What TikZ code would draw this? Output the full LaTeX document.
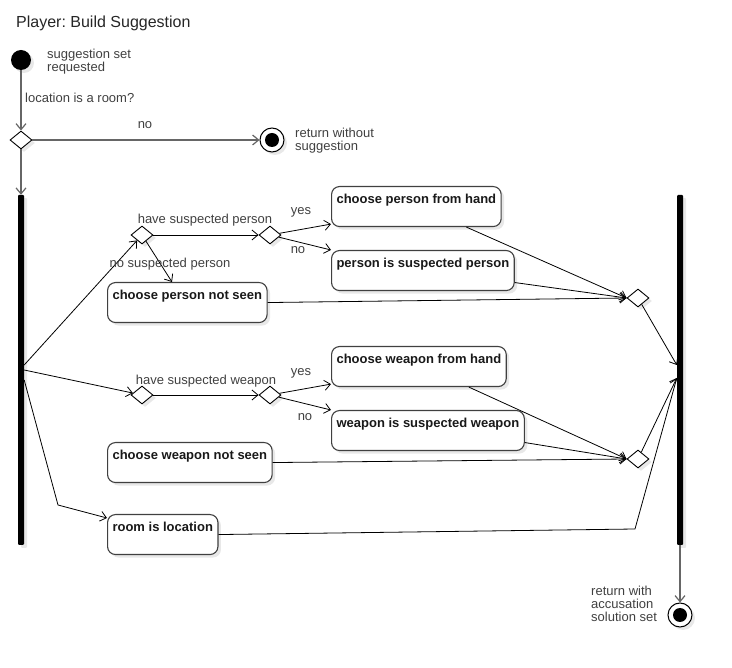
\documentclass[tikz,border=0pt]{standalone}
\usepackage{fontspec}
\setmainfont{Liberation Sans}
\frenchspacing
\usetikzlibrary{shapes.geometric,arrows.meta,shadows}

\tikzset{
  softshadow/.style={drop shadow={shadow xshift=3pt,shadow yshift=-3pt,fill=black!9,opacity=1}},
  startnode/.style={circle, fill=black, minimum size=20pt, inner sep=0pt, softshadow},
  endnode/.style={circle, draw=black, fill=white, line width=1pt, minimum size=24pt, inner sep=0pt, softshadow,
    path picture={\fill[black] (path picture bounding box.center) circle (7pt);}},
  choice/.style={diamond, draw=black, fill=white, line width=0.9pt, minimum width=22pt, minimum height=18pt, inner sep=0pt, softshadow},
  forkbar/.style={rectangle, fill=black, minimum width=6pt, minimum height=350pt, inner sep=0pt, rounded corners=1pt, softshadow},
  action/.style={rectangle, draw=black!75, fill=white, line width=1.1pt, rounded corners=8pt, anchor=north west,
    inner xsep=5pt, inner ysep=5pt, text height=12pt, text depth=18pt,
    font=\bfseries\fontsize{13}{13}\selectfont, text=black!90, softshadow},
  txt/.style={font=\fontsize{13}{13}\selectfont, text=black!75, inner sep=0pt, align=left},
  flow/.style={-{Straight Barb[length=6pt,width=10pt]}, line width=0.8pt, draw=black},
  mainflow/.style={flow, draw=black!60, line width=1.2pt},
}

\begin{document}
\begin{tikzpicture}[x=1pt, y=-1pt]
    \useasboundingbox (0,0) rectangle (732,668);
    \node[txt, anchor=west, font=\fontsize{16}{16}\selectfont, text=black!85] (title) at (16,23) {Player: Build Suggestion};

    % 開始と終了
    \node[startnode] (start) at (21,60) {};
    \node[choice] (isroom) at (21,140) {};
    \node[endnode] (quit) at (272,140) {};
    \node[endnode] (done) at (680,615) {};
    \node[forkbar] (fork) at (21,370) {};
    \node[forkbar] (join) at (680,370) {};

    % 人物
    \node[choice] (hasperson) at (142,235) {};
    \node[choice] (personinhand) at (270,235) {};
    \node[action] (personhand) at (331,186) {choose person from hand};
    \node[action] (personsusp) at (331,250) {person is suspected person};
    \node[action] (personnew) at (107,282) {choose person not seen};
    \node[choice] (mergeperson) at (638,298) {};

    % 凶器
    \node[choice] (hasweapon) at (142,395) {};
    \node[choice] (weaponinhand) at (270,395) {};
    \node[action] (weaponhand) at (331,346) {choose weapon from hand};
    \node[action] (weaponsusp) at (331,410) {weapon is suspected weapon};
    \node[action] (weaponnew) at (107,442) {choose weapon not seen};
    \node[choice] (mergeweapon) at (638,459) {};

    % 部屋
    \node[action] (roomloc) at (107,514) {room is location};
    \coordinate (roombend) at (58,505);
    \coordinate (joinbend) at (635,529);

    % 線を引く
    \draw[mainflow] (start) -- (isroom);
    \draw[mainflow] (isroom) -- (quit);
    \draw[mainflow] (isroom) -- (fork);
    \draw[mainflow] (join) -- (done);

    \draw[flow] ([yshift=5pt]fork.east) -- (hasperson);
    \draw[flow] (fork.east) -- (hasweapon);
    \draw[flow] ([yshift=-10pt]fork.east) -- (roombend) -- ([yshift=-4pt]roomloc.north west);

    \draw[flow] (hasperson) -- (personinhand);
    \draw[flow] (hasperson) -- ([xshift=65pt]personnew.north west);
    \draw[flow] (personinhand) -- ([yshift=3pt]personhand.south west);
    \draw[flow] (personinhand) -- (personsusp.north west);
    \draw[flow] ([xshift=50pt]personhand.south) -- (mergeperson.west);
    \draw[flow] ([yshift=-12pt]personsusp.east) -- (mergeperson.west);
    \draw[flow] (personnew.east) -- (mergeperson.west);
    \draw[flow] (mergeperson) -- ([yshift=5pt]join.west);

    \draw[flow] (hasweapon) -- (weaponinhand);
    \draw[flow] (weaponinhand) -- ([yshift=3pt]weaponhand.south west);
    \draw[flow] (weaponinhand) -- (weaponsusp.north west);
    \draw[flow] ([xshift=50pt]weaponhand.south) -- (mergeweapon.west);
    \draw[flow] ([yshift=-12pt]weaponsusp.east) -- (mergeweapon.west);
    \draw[flow] (weaponnew.east) -- (mergeweapon.west);
    \draw[flow] (mergeweapon) -- ([yshift=-8pt]join.west);
    \draw[flow] (roomloc.east) -- (joinbend) -- ([yshift=-8pt]join.west);

    % ラベル
    \node[txt, anchor=west] (startlbl) at (47,62) {suggestion set\\requested};
    \node[txt, anchor=west] (roomq) at (25,98) {location is a room?};
    \node[txt] (nolbl) at (145,125) {no};
    \node[txt, anchor=west] (quitlbl) at (295,141) {return without\\suggestion};
    \node[txt] (hasplbl) at (205,220) {have suspected person};
    \node[txt] (nosplbl) at (170,264) {no suspected person};
    \node[txt] (yesp) at (301,212) {yes};
    \node[txt] (nop) at (298,250) {no};
    \node[txt] (haswlbl) at (206,381) {have suspected weapon};
    \node[txt] (yesw) at (301,373) {yes};
    \node[txt] (now) at (305,417) {no};
    \node[txt, anchor=west] (donelbl) at (591,604) {return with\\accusation\\solution set};
\end{tikzpicture}
\end{document}
